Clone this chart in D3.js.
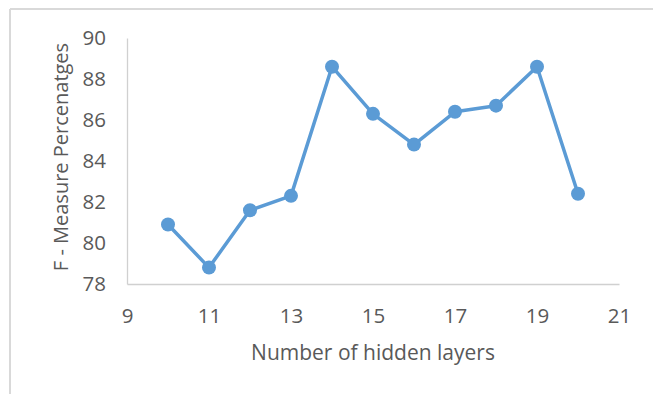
<!DOCTYPE html>
<html>
<head>
<meta charset="utf-8">
<script src="https://cdn.jsdelivr.net/npm/d3@7"></script>
<style>
  html, body { margin: 0; padding: 0; background: #fff; }
  svg { display: block; }
  text { font-family: "Open Sans", "Liberation Sans", sans-serif; fill: #595959; }
</style>
</head>
<body>
<svg id="chart" width="653" height="396"></svg>
<script>
// Hidden-layer counts and the F-measure obtained for each
const hiddenLayers = [10, 11, 12, 13, 14, 15, 16, 17, 18, 19, 20];
const fMeasure = [80.9, 78.8, 81.6, 82.3, 88.6, 86.3, 84.8, 86.4, 86.7, 88.6, 82.4];
const xTicks = [9, 11, 13, 15, 17, 19, 21];
const yTicks = [78, 80, 82, 84, 86, 88, 90];
const xTitle = "Number of hidden layers";
const yTitle = "F - Measure Percenatges";

const svg = d3.select("#chart");
const W = 653, H = 396;
const plot = { left: 127, right: 619, top: 38, bottom: 284 };

// Chart frame (top and left edges)
svg.append("line").attr("x1", 10).attr("x2", W).attr("y1", 9).attr("y2", 9)
  .attr("stroke", "#d9d9d9").attr("stroke-width", 2);
svg.append("line").attr("x1", 10).attr("x2", 10).attr("y1", 9).attr("y2", 394)
  .attr("stroke", "#d9d9d9").attr("stroke-width", 2);

const x = d3.scaleLinear().domain([9, 21]).range([plot.left, plot.right]);
const y = d3.scaleLinear().domain([78, 90]).range([plot.bottom, plot.top]);

// Axes
const xAxis = svg.append("g").attr("transform", `translate(0,${plot.bottom})`)
  .call(d3.axisBottom(x).tickValues(xTicks).tickSize(0).tickPadding(24).tickFormat(d3.format("d")));
const yAxis = svg.append("g").attr("transform", `translate(${plot.left},0)`)
  .call(d3.axisLeft(y).tickValues(yTicks).tickSize(0).tickPadding(21).tickFormat(d3.format("d")));

[xAxis, yAxis].forEach(g => {
  g.select(".domain").attr("stroke", "#d0d0d0").attr("stroke-width", 1.3);
  g.selectAll("text").style("font-size", "20.5px").attr("fill", "#595959");
});

// Axis titles
svg.append("text")
  .attr("x", (plot.left + plot.right) / 2).attr("y", 360)
  .attr("text-anchor", "middle").style("font-size", "21px")
  .text(xTitle);
svg.append("text")
  .attr("transform", "translate(68,157) rotate(-90)")
  .attr("text-anchor", "middle").style("font-size", "20px")
  .text(yTitle);

// Series line and markers
const data = hiddenLayers.map((h, i) => ({ h, v: fMeasure[i] }));
svg.append("path").datum(data)
  .attr("fill", "none").attr("stroke", "#5b9bd5").attr("stroke-width", 3.5)
  .attr("stroke-linejoin", "round")
  .attr("d", d3.line().x(d => x(d.h)).y(d => y(d.v)));
svg.selectAll("circle.pt").data(data).enter().append("circle")
  .attr("class", "pt")
  .attr("cx", d => x(d.h)).attr("cy", d => y(d.v)).attr("r", 7)
  .attr("fill", "#5b9bd5");
</script>
</body>
</html>
